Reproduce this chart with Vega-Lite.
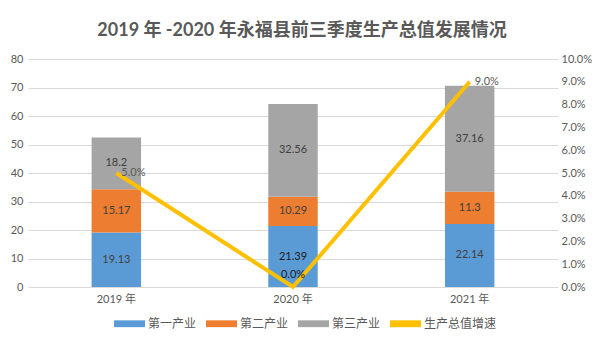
{
  "$schema": "https://vega.github.io/schema/vega-lite/v6.json",
  "width": 530,
  "height": 228,
  "autosize": {"type": "none"},
  "padding": {"left": 28, "top": 59, "right": 47, "bottom": 53},
  "background": "white",
  "config": {
    "font": "Lato, Noto Sans CJK SC",
    "view": {"stroke": null},
    "axis": {"labelColor": "#595959", "labelFontSize": 11, "domain": false, "ticks": false, "title": null, "gridColor": "#D9D9D9", "gridWidth": 1, "labelOverlap": false}
  },
  "title": {"text": "2019 年 -2020 年永福县前三季度生产总值发展情况", "fontSize": 18, "fontWeight": "bold", "color": "#595959", "anchor": "middle", "frame": "group", "dx": 9, "offset": 13},
  "datasets": {
    "bars": [
      {"year": "2019 年", "series": "第一产业", "k": 1, "value": 19.13},
      {"year": "2019 年", "series": "第二产业", "k": 2, "value": 15.17},
      {"year": "2019 年", "series": "第三产业", "k": 3, "value": 18.2},
      {"year": "2020 年", "series": "第一产业", "k": 1, "value": 21.39},
      {"year": "2020 年", "series": "第二产业", "k": 2, "value": 10.29},
      {"year": "2020 年", "series": "第三产业", "k": 3, "value": 32.56},
      {"year": "2021 年", "series": "第一产业", "k": 1, "value": 22.14},
      {"year": "2021 年", "series": "第二产业", "k": 2, "value": 11.3},
      {"year": "2021 年", "series": "第三产业", "k": 3, "value": 37.16}
    ],
    "growth": [
      {"year": "2019 年", "rate": 0.05},
      {"year": "2020 年", "rate": 0.0},
      {"year": "2021 年", "rate": 0.09}
    ]
  },
  "encoding": {
    "x": {"field": "year", "type": "nominal", "scale": {"paddingInner": 0.72, "paddingOuter": 0.36}, "axis": {"labelAngle": 0, "labelPadding": 6, "grid": false}}
  },
  "layer": [
    {
      "layer": [
        {
          "data": {"name": "bars"},
          "mark": {"type": "bar"},
          "encoding": {
            "y": {"field": "value", "type": "quantitative", "stack": "zero", "title": null, "scale": {"domain": [0, 80]}, "axis": {"values": [0,10,20,30,40,50,60,70,80], "labelOverlap": false, "labelPadding": 5, "grid": true}},
            "order": {"field": "k", "type": "quantitative"},
            "color": {
              "field": "series", "type": "nominal",
              "scale": {"domain": ["第一产业", "第二产业", "第三产业", "生产总值增速"], "range": ["#5B9BD5", "#ED7D31", "#A5A5A5", "#FFC000"]},
              "legend": {"title": null, "orient": "none", "legendX": 86, "legendY": 249, "direction": "horizontal", "symbolType": "M-1,-0.22H1V0.22H-1Z", "symbolSize": 961, "symbolStrokeWidth": 0, "labelFontSize": 12, "labelColor": "#595959", "columnPadding": 9, "labelOffset": 3}
            }
          }
        },
        {
          "data": {"name": "bars"},
          "transform": [
            {"stack": "value", "groupby": ["year"], "sort": [{"field": "k"}], "as": ["v0", "v1"]},
            {"calculate": "(datum.v0 + datum.v1) / 2", "as": "mid"}
          ],
          "mark": {"type": "text", "fontSize": 11},
          "encoding": {
            "y": {"field": "mid", "type": "quantitative", "title": null, "scale": {"domain": [0, 80]}, "axis": {"values": [0,10,20,30,40,50,60,70,80], "labelOverlap": false, "labelPadding": 5, "grid": true}},
            "text": {"field": "value", "type": "quantitative"},
            "color": {"condition": {"test": "datum.value == 21.39", "value": "#1a1a1a"}, "value": "#404040"}
          }
        }
      ]
    },
    {
      "data": {"name": "growth"},
      "layer": [
        {
          "mark": {"type": "line", "strokeWidth": 4, "color": "#FFC000"},
          "encoding": {
            "y": {"field": "rate", "type": "quantitative", "title": null, "scale": {"domain": [0, 0.1]}, "axis": {"orient": "right", "format": ".1%", "values": [0,0.01,0.02,0.03,0.04,0.05,0.06,0.07,0.08,0.09,0.1], "labelOverlap": false, "grid": false, "labelPadding": 3}},
            "color": {"datum": "生产总值增速"}
          }
        },
        {
          "transform": [{"filter": "datum.rate > 0"}],
          "mark": {"type": "text", "fontSize": 11, "color": "#595959", "align": "left", "dx": 5, "dy": 0},
          "encoding": {
            "y": {"field": "rate", "type": "quantitative", "title": null, "scale": {"domain": [0, 0.1]}, "axis": {"orient": "right", "format": ".1%", "values": [0,0.01,0.02,0.03,0.04,0.05,0.06,0.07,0.08,0.09,0.1], "labelOverlap": false, "grid": false, "labelPadding": 3}},
            "text": {"field": "rate", "type": "quantitative", "format": ".1%"}
          }
        },
        {
          "transform": [{"filter": "datum.rate == 0"}],
          "mark": {"type": "text", "fontSize": 11, "color": "#1a1a1a", "align": "center", "dy": -12},
          "encoding": {
            "y": {"field": "rate", "type": "quantitative", "title": null, "scale": {"domain": [0, 0.1]}, "axis": {"orient": "right", "format": ".1%", "values": [0,0.01,0.02,0.03,0.04,0.05,0.06,0.07,0.08,0.09,0.1], "labelOverlap": false, "grid": false, "labelPadding": 3}},
            "text": {"field": "rate", "type": "quantitative", "format": ".1%"}
          }
        }
      ]
    }
  ],
  "resolve": {"scale": {"y": "independent"}}
}
